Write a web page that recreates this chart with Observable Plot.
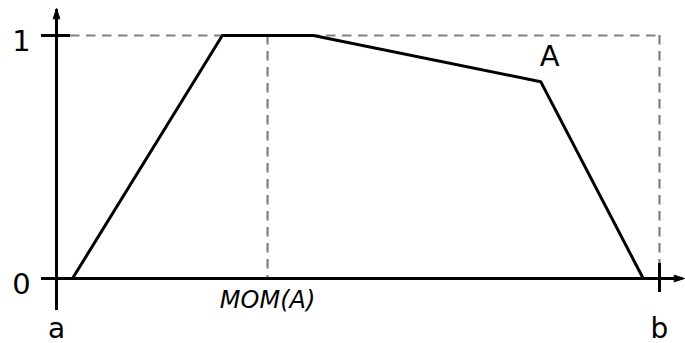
<!DOCTYPE html>
<html><head><meta charset="utf-8">
<style>body{margin:0;background:#fff}svg{display:block}</style>
<script src="https://cdn.jsdelivr.net/npm/d3@7"></script>
<script src="https://cdn.jsdelivr.net/npm/@observablehq/plot@0.6"></script>
</head><body><div id="chart"></div>
<script>
// Data
const curveX = [0.0265, 0.275, 0.426, 0.803, 0.973];
const curveY = [0, 1, 1, 0.81, 0];
const momX = 0.35;
const aX = 0, bX = 1;
const yTicks = [0, 1];
const yTickLabels = ["0", "1"];
const xEndLabels = ["a", "b"];
const curveName = "A";
const momLabel = "MOM(A)";

const curve = curveX.map((x, i) => ({x, y: curveY[i]}));
const xEnds = [{x: aX, t: xEndLabels[0]}, {x: bX, t: xEndLabels[1]}];
const yLab = yTicks.map((y, i) => ({y, t: yTickLabels[i]}));

// layout (scale extents, in pixels per unit)
const sx = 603, sy = 243;
const xDom = [aX - 56 / sx, aX + 629 / sx];
const yDom = [-65 / sy, 1 + 35 / sy];

const arrowShape = {
  draw(ctx, l, r) {
    ctx.moveTo(-r, 0);
    ctx.lineTo(0, -l);
    ctx.lineTo(r, 0);
    ctx.closePath();
  }
};

const dash = {stroke: "#808080", strokeWidth: 2.2, strokeDasharray: "9.5,6.5"};
const solid = {stroke: "black", strokeWidth: 3};
const chart = Plot.plot({
  width: 685, height: 343,
  marginLeft: 0, marginRight: 0, marginTop: 0, marginBottom: 0,
  x: {domain: xDom, axis: null},
  y: {domain: yDom, axis: null},
  style: {fontFamily: "DejaVu Sans", background: "#fff"},
  marks: [
    // dashed guides
    Plot.ruleY([1], {x1: aX + 14 / sx, x2: bX, ...dash}),
    Plot.ruleX([bX], {y1: 1, y2: 15 / sy, ...dash}),
    Plot.ruleX([momX], {y1: 1, y2: 0, ...dash}),
    // axes
    Plot.ruleX([aX], {y1: -32 / sy, y2: 1 + 26 / sy, ...solid}),
    Plot.ruleY([0], {x1: aX - 15 / sx, x2: aX + 620 / sx, ...solid}),
    Plot.ruleY([1], {x1: aX - 15 / sx, x2: aX + 14 / sx, ...solid}),
    Plot.ruleX([bX], {y1: 15 / sy, y2: -14 / sy, ...solid}),
    Plot.vector([{x: aX, y: 1 + 17 / sy}], {x: "x", y: "y", length: 10, r: 3.2, rotate: 0, anchor: "start", shape: arrowShape, fill: "black", stroke: "black", strokeWidth: 1}),
    Plot.vector([{x: aX + 618 / sx, y: 0}], {x: "x", y: "y", length: 10, r: 3.2, rotate: 90, anchor: "start", shape: arrowShape, fill: "black", stroke: "black", strokeWidth: 1}),
    // curve
    Plot.line(curve, {x: "x", y: "y", ...solid, strokeLinejoin: "miter"}),
    // labels
    Plot.text(yLab, {x: aX, y: "y", text: "t", dx: -35, dy: 6, fontSize: 29, fill: "black"}),
    Plot.text(xEnds, {x: "x", y: 0, text: "t", dy: 51, fontSize: 28, fill: "black"}),
    Plot.text([momLabel], {x: momX, y: 0, text: d => d, dy: 22, fontSize: 24, fontStyle: "italic", fill: "black"}),
    Plot.text([curve[3]], {x: "x", y: "y", text: () => curveName, dx: 9, dy: -25, fontSize: 29, fill: "black"})
  ]
});
document.getElementById("chart").append(chart);
</script>
</body></html>
